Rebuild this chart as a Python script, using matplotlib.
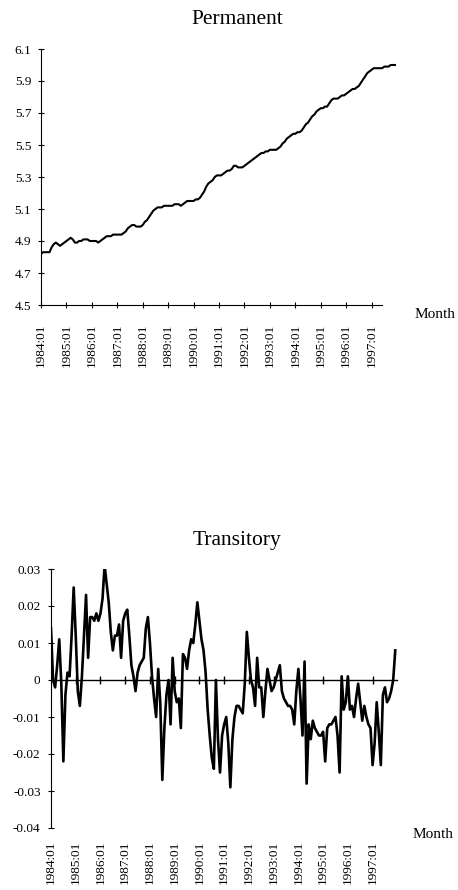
import numpy as np
import matplotlib
matplotlib.use('Agg')
import matplotlib.pyplot as plt

plt.rcParams.update({'font.family': ['Liberation Serif', 'DejaVu Serif']})

# monthly values 1984:01 - 1997:12
permanent = [
    4.82, 4.83, 4.83, 4.83, 4.83, 4.86, 4.88, 4.89, 4.88, 4.87, 4.88, 4.89,  # 1984
    4.90, 4.91, 4.92, 4.91, 4.89, 4.89, 4.90, 4.90, 4.91, 4.91, 4.91, 4.90,  # 1985
    4.90, 4.90, 4.90, 4.89, 4.90, 4.91, 4.92, 4.93, 4.93, 4.93, 4.94, 4.94,  # 1986
    4.94, 4.94, 4.94, 4.95, 4.96, 4.98, 4.99, 5.00, 5.00, 4.99, 4.99, 4.99,  # 1987
    5.00, 5.02, 5.03, 5.05, 5.07, 5.09, 5.10, 5.11, 5.11, 5.11, 5.12, 5.12,  # 1988
    5.12, 5.12, 5.12, 5.13, 5.13, 5.13, 5.12, 5.13, 5.14, 5.15, 5.15, 5.15,  # 1989
    5.15, 5.16, 5.16, 5.17, 5.19, 5.21, 5.24, 5.26, 5.27, 5.28, 5.30, 5.31,  # 1990
    5.31, 5.31, 5.32, 5.33, 5.34, 5.34, 5.35, 5.37, 5.37, 5.36, 5.36, 5.36,  # 1991
    5.37, 5.38, 5.39, 5.40, 5.41, 5.42, 5.43, 5.44, 5.45, 5.45, 5.46, 5.46,  # 1992
    5.47, 5.47, 5.47, 5.47, 5.48, 5.49, 5.51, 5.52, 5.54, 5.55, 5.56, 5.57,  # 1993
    5.57, 5.58, 5.58, 5.59, 5.61, 5.63, 5.64, 5.66, 5.68, 5.69, 5.71, 5.72,  # 1994
    5.73, 5.73, 5.74, 5.74, 5.76, 5.78, 5.79, 5.79, 5.79, 5.80, 5.81, 5.81,  # 1995
    5.82, 5.83, 5.84, 5.85, 5.85, 5.86, 5.87, 5.89, 5.91, 5.93, 5.95, 5.96,  # 1996
    5.97, 5.98, 5.98, 5.98, 5.98, 5.98, 5.99, 5.99, 5.99, 6.00, 6.00, 6.00,  # 1997
]

transitory = [
    0.014, 0.000, -0.002, 0.004, 0.011, -0.001, -0.022, -0.004, 0.002, 0.001, 0.012, 0.025,  # 1984
    0.012, -0.003, -0.007, 0.001, 0.012, 0.023, 0.006, 0.017, 0.017, 0.016, 0.018, 0.016,  # 1985
    0.018, 0.022, 0.031, 0.026, 0.021, 0.013, 0.008, 0.012, 0.012, 0.015, 0.006, 0.016,  # 1986
    0.018, 0.019, 0.012, 0.004, 0.001, -0.003, 0.002, 0.004, 0.005, 0.006, 0.014, 0.017,  # 1987
    0.010, 0.001, -0.005, -0.010, 0.003, -0.006, -0.027, -0.013, -0.004, 0.000, -0.012, 0.006,  # 1988
    -0.003, -0.006, -0.005, -0.013, 0.007, 0.006, 0.003, 0.008, 0.011, 0.010, 0.015, 0.021,  # 1989
    0.016, 0.011, 0.008, 0.002, -0.008, -0.015, -0.021, -0.024, 0.000, -0.016, -0.025, -0.015,  # 1990
    -0.012, -0.010, -0.017, -0.029, -0.016, -0.010, -0.007, -0.007, -0.008, -0.009, -0.001, 0.013,  # 1991
    0.006, 0.000, -0.002, -0.007, 0.006, -0.002, -0.002, -0.010, -0.003, 0.003, 0.000, -0.003,  # 1992
    -0.002, 0.000, 0.002, 0.004, -0.003, -0.005, -0.006, -0.007, -0.007, -0.008, -0.012, -0.003,  # 1993
    0.003, -0.005, -0.015, 0.005, -0.028, -0.012, -0.016, -0.011, -0.013, -0.014, -0.015, -0.015,  # 1994
    -0.014, -0.022, -0.013, -0.012, -0.012, -0.011, -0.010, -0.015, -0.025, 0.001, -0.008, -0.006,  # 1995
    0.001, -0.008, -0.007, -0.010, -0.005, -0.001, -0.006, -0.011, -0.007, -0.010, -0.012, -0.013,  # 1996
    -0.023, -0.017, -0.006, -0.014, -0.023, -0.004, -0.002, -0.006, -0.005, -0.003, 0.000, 0.008,  # 1997
]

years = list(range(1984, 1998))
tick_labels = ['%d:01' % y for y in years]
tick_pos = [12 * i for i in range(len(years))]
months = np.arange(len(permanent))

W, H = 458, 890
fig = plt.figure(figsize=(W / 100, H / 100), dpi=100)

def box(l, t, r, b):
    return [l / W, 1 - b / H, (r - l) / W, (b - t) / H]

# ---- Permanent ----
ax1 = fig.add_axes(box(41, 49, 400, 305))
ax1.plot(months, permanent, color='black', lw=1.5)
ax1.set_xlim(0, 169.4)
ax1.set_ylim(4.5, 6.1)
ax1.set_yticks([4.5, 4.7, 4.9, 5.1, 5.3, 5.5, 5.7, 5.9, 6.1])
ax1.set_yticklabels(['4.5', '4.7', '4.9', '5.1', '5.3', '5.5', '5.7', '5.9', '6.1'])
ax1.set_xticks(tick_pos)
ax1.set_xticklabels(tick_labels, rotation=90, va='top')
ax1.spines['top'].set_visible(False)
ax1.spines['right'].set_visible(False)
ax1.spines['bottom'].set_bounds(0, 161)
ax1.tick_params(axis='x', direction='inout', length=5, width=0.8, pad=11, labelsize=9.5)
ax1.tick_params(axis='y', direction='inout', length=4, width=0.8, pad=5, labelsize=9.5)
fig.text(237 / W, 1 - 20 / H, 'Permanent', ha='center', va='center', fontsize=15.5)
fig.text(435 / W, 1 - 315 / H, 'Month', ha='center', va='center', fontsize=11)

# ---- Transitory ----
ax2 = fig.add_axes(box(51, 569, 400, 828))
ax2.plot(months, transitory, color='black', lw=1.9)
ax2.axhline(0, xmin=0, xmax=168 / 169.3, color='black', lw=1.0)
ax2.plot(tick_pos[1:], [0] * (len(tick_pos) - 1), '|', color='black', ms=6, mew=1.0)
ax2.set_xlim(0, 169.3)
ax2.set_ylim(-0.04, 0.03)
ax2.set_yticks([-0.04, -0.03, -0.02, -0.01, 0, 0.01, 0.02, 0.03])
ax2.set_yticklabels(['-0.04', '-0.03', '-0.02', '-0.01', '0', '0.01', '0.02', '0.03'])
ax2.set_xticks(tick_pos)
ax2.set_xticklabels(tick_labels, rotation=90, va='top')
ax2.spines['top'].set_visible(False)
ax2.spines['right'].set_visible(False)
ax2.spines['bottom'].set_visible(False)
ax2.tick_params(axis='x', length=0, pad=9, labelsize=9.5)
ax2.tick_params(axis='y', direction='inout', length=5, width=0.8, pad=5, labelsize=9.5)
fig.text(237 / W, 1 - 540 / H, 'Transitory', ha='center', va='center', fontsize=15.5)
fig.text(433 / W, 1 - 835 / H, 'Month', ha='center', va='center', fontsize=11)

fig.savefig('out.png', dpi=100)
print('saved')
